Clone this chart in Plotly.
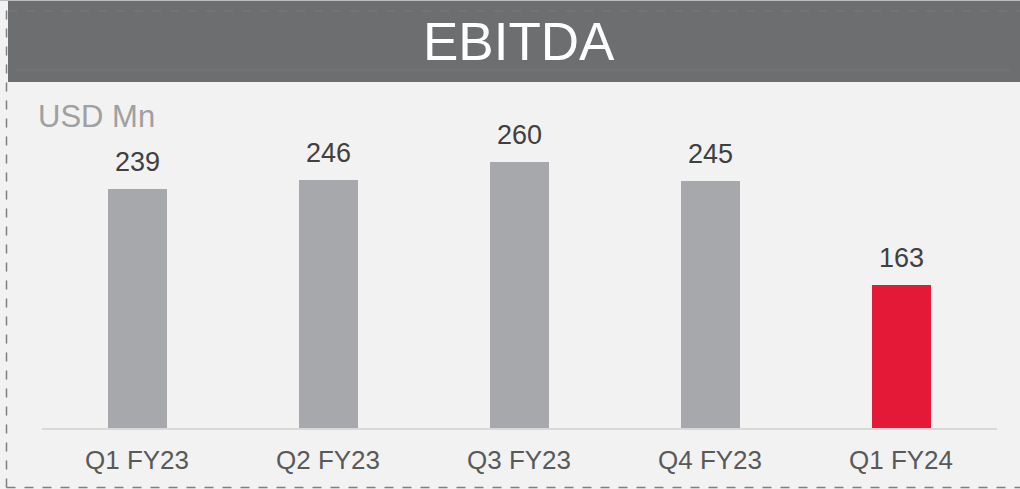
import plotly.graph_objects as go

categories = ["Q1 FY23", "Q2 FY23", "Q3 FY23", "Q4 FY23", "Q1 FY24"]
values = [239, 246, 260, 245, 163]
bar_colors = ["#a7a8ab", "#a7a8ab", "#a7a8ab", "#a7a8ab", "#e31937"]
title_text = "EBITDA"
unit_text = "USD Mn"

W, H = 1020, 489


def px(x):
    return x / W


def py(y):
    return 1 - y / H


fig = go.Figure()
fig.add_trace(go.Bar(
    x=categories, y=values, width=0.314,
    marker=dict(color=bar_colors, line=dict(width=0)),
    hoverinfo="skip",
))

for c, v in zip(categories, values):
    fig.add_annotation(
        x=c, y=v, xref="x", yref="y", text=str(v), showarrow=False,
        yanchor="bottom", yshift=10,
        font=dict(family="Liberation Sans, Arial", size=27, color="#404040"),
    )

shapes = []
# banner
shapes.append(dict(type="rect", xref="paper", yref="paper",
                   x0=px(8), x1=px(1021), y0=py(82), y1=py(1),
                   fillcolor="#6d6e70", line=dict(width=0), layer="below"))
# subtle bevel lines
shapes.append(dict(type="line", xref="paper", yref="paper",
                   x0=px(8), x1=px(1020), y0=py(11), y1=py(11),
                   line=dict(color="#737476", width=2, dash="dash")))
shapes.append(dict(type="line", xref="paper", yref="paper",
                   x0=px(16), x1=px(1010), y0=py(70), y1=py(70),
                   line=dict(color="#717274", width=3)))
shapes.append(dict(type="line", xref="paper", yref="paper",
                   x0=px(0), x1=px(1020), y0=py(0.5), y1=py(0.5),
                   line=dict(color="#bdbdbd", width=1)))
# dashed border
shapes.append(dict(type="line", xref="paper", yref="paper",
                   x0=px(6.5), x1=px(6.5), y0=py(487.5), y1=py(2),
                   line=dict(color="#7f7f7f", width=1.5, dash="dash")))
shapes.append(dict(type="line", xref="paper", yref="paper",
                   x0=px(6.5), x1=px(1020), y0=py(487.5), y1=py(487.5),
                   line=dict(color="#7f7f7f", width=1.5, dash="dash")))

fig.add_annotation(
    x=px(519), y=py(42), xref="paper", yref="paper", text=title_text,
    showarrow=False, xanchor="center", yanchor="middle",
    font=dict(family="Liberation Sans, Arial", size=53, color="#ffffff"),
)
fig.add_annotation(
    x=px(36), y=py(116), xref="paper", yref="paper", text=unit_text,
    showarrow=False, xanchor="left", yanchor="middle",
    font=dict(family="Liberation Sans, Arial", size=31, color="#a0a0a0"),
)

base_val = 50.8
scale = 1.272
plot_h = 428 - 82

fig.update_layout(
    width=W, height=H,
    margin=dict(l=0, r=0, t=0, b=0),
    paper_bgcolor="#f2f2f2", plot_bgcolor="#f2f2f2",
    showlegend=False,
    shapes=shapes,
    bargap=0,
    xaxis=dict(
        domain=[px(41.5), px(996.5)],
        showgrid=False, zeroline=False,
        showline=True, linecolor="#d9d9d9", linewidth=2,
        ticks="outside", ticklen=8, tickcolor="rgba(0,0,0,0)",
        tickfont=dict(family="Liberation Sans, Arial", size=26, color="#595959"),
        fixedrange=True,
    ),
    yaxis=dict(
        domain=[py(428), py(82)],
        range=[base_val, base_val + plot_h / scale],
        showgrid=False, zeroline=False, showticklabels=False, showline=False,
        fixedrange=True,
    ),
)

fig.write_html(
    "out.html",
    config={"displayModeBar": False},
    post_script="document.body.style.margin='0';document.body.style.overflow='hidden';",
)
